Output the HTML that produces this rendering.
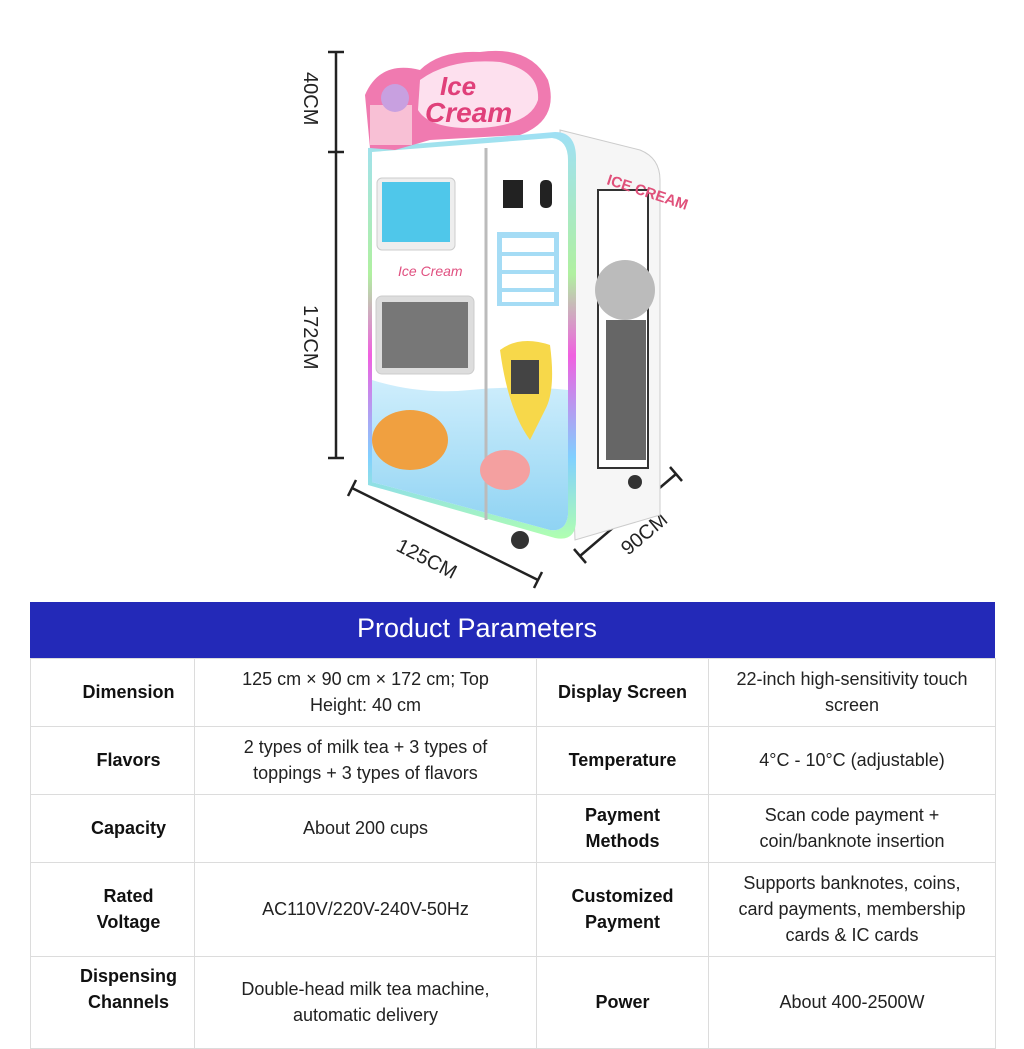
<!DOCTYPE html>
<html><head><meta charset="utf-8"><style>
html,body{margin:0;padding:0;background:#fff;width:1024px;height:1024px;overflow:hidden;font-family:"Liberation Sans",sans-serif;}
#t{position:absolute;left:30px;top:602px;border-collapse:collapse;table-layout:fixed;width:965px;}
#t td{border:1px solid #dcdcdc;text-align:center;font-size:18px;color:#222;line-height:26px;padding:0 4px;white-space:nowrap;}
#t td.b{font-weight:bold;color:#111;}
#t td.c1{padding-left:36px;padding-right:4px;}
#hd{position:absolute;left:30px;top:602px;width:965px;height:56px;background:#2329b8;}
#hd span{position:absolute;left:164px;width:566px;text-align:center;top:11px;color:#fff;font-size:27px;}
</style></head><body>
<svg width="1024" height="600" style="position:absolute;left:0;top:0">
<defs>
<linearGradient id="rb" x1="0" y1="0" x2="0" y2="1">
<stop offset="0" stop-color="#9fe0f5"/><stop offset=".35" stop-color="#b0f0a0"/><stop offset=".55" stop-color="#f060e0"/><stop offset=".8" stop-color="#80d0ff"/><stop offset="1" stop-color="#b0ffb0"/></linearGradient>
<linearGradient id="bl" x1="0" y1="0" x2="0" y2="1"><stop offset="0" stop-color="#cfeefc"/><stop offset="1" stop-color="#8fd3f3"/></linearGradient>
</defs>
<g stroke="#222" stroke-width="2.5" fill="none">
<line x1="336" y1="52" x2="336" y2="458"/><line x1="328" y1="52" x2="344" y2="52"/><line x1="328" y1="152" x2="344" y2="152"/><line x1="328" y1="458" x2="344" y2="458"/>
<line x1="352" y1="488" x2="538" y2="580"/><line x1="348" y1="496" x2="356" y2="480"/><line x1="534" y1="588" x2="542" y2="572"/>
<line x1="580" y1="556" x2="676" y2="474"/><line x1="574" y1="549" x2="586" y2="563"/><line x1="670" y1="467" x2="682" y2="481"/>
</g>
<g font-size="20" fill="#222" font-family="Liberation Sans">
<text transform="translate(304,72) rotate(90)">40CM</text>
<text transform="translate(304,305) rotate(90)">172CM</text>
<text transform="translate(395,550) rotate(27)">125CM</text>
<text transform="translate(628,556) rotate(-40)">90CM</text>
</g>
<path d="M560 130 L640 150 Q660 158 660 180 L660 515 L575 540 Z" fill="#f6f6f6" stroke="#ccc"/>
<rect x="598" y="190" width="50" height="278" fill="#fff" stroke="#333" stroke-width="2"/>
<circle cx="625" cy="290" r="30" fill="#bbb"/>
<rect x="606" y="320" width="40" height="140" fill="#666"/>
<text x="606" y="184" font-size="15" fill="#e0507a" font-weight="bold" transform="rotate(18 606 184)">ICE CREAM</text>
<circle cx="395" cy="482" r="8" fill="#333"/><circle cx="520" cy="540" r="9" fill="#333"/><circle cx="635" cy="482" r="7" fill="#333"/>
<path d="M368 148 L555 132 Q576 132 576 158 L576 520 Q576 542 555 538 L368 485 Z" fill="url(#rb)"/>
<path d="M372 152 L552 138 Q568 140 568 160 L568 515 Q566 532 550 530 L372 482 Z" fill="#fff"/>
<path d="M372 380 Q420 395 470 390 Q520 385 568 390 L568 515 Q566 532 550 530 L372 482 Z" fill="url(#bl)"/>
<line x1="486" y1="148" x2="486" y2="520" stroke="#bbb" stroke-width="3"/>
<rect x="377" y="178" width="78" height="72" rx="5" fill="#eee" stroke="#ccc"/>
<rect x="382" y="182" width="68" height="60" fill="#4fc7ea"/>
<rect x="376" y="296" width="98" height="78" rx="6" fill="#ddd" stroke="#ccc"/>
<rect x="382" y="302" width="86" height="66" fill="#777"/>
<text x="398" y="276" font-size="14" fill="#e05080" font-style="italic">Ice Cream</text>
<ellipse cx="410" cy="440" rx="38" ry="30" fill="#f0a040"/>
<ellipse cx="505" cy="470" rx="25" ry="20" fill="#f4a0a0"/>
<rect x="503" y="180" width="20" height="28" fill="#222"/><rect x="540" y="180" width="12" height="28" rx="5" fill="#222"/>
<rect x="497" y="232" width="62" height="74" fill="#a5dcf5"/>
<rect x="502" y="238" width="52" height="14" fill="#fff"/><rect x="502" y="256" width="52" height="14" fill="#fff"/><rect x="502" y="274" width="52" height="14" fill="#fff"/><rect x="502" y="292" width="52" height="10" fill="#fff"/>
<path d="M500 350 Q520 335 550 345 Q556 390 545 410 L530 440 Q508 410 500 350 Z" fill="#f7d84a"/>
<rect x="511" y="360" width="28" height="34" fill="#444"/>
<path d="M365 95 Q380 60 420 70 Q440 50 480 52 Q530 45 548 80 Q560 120 520 135 L430 140 L395 150 L370 148 Z" fill="#f07ab0"/>
<path d="M420 80 Q450 58 500 62 Q540 70 538 100 Q530 125 480 128 Q430 130 418 110 Z" fill="#fde0ee"/>
<text x="440" y="95" font-size="26" fill="#e0407a" font-style="italic" font-weight="bold">Ice</text>
<text x="425" y="122" font-size="28" fill="#e0407a" font-style="italic" font-weight="bold">Cream</text>
<rect x="370" y="105" width="42" height="40" fill="#f8c0d5"/>
<circle cx="395" cy="98" r="14" fill="#c8a0e0"/>
</svg>
<div id="hd"><span>Product Parameters</span></div>
<table id="t">
<colgroup><col style="width:164px"><col style="width:342px"><col style="width:172px"><col style="width:287px"></colgroup>
<tr style="height:56px"><td colspan="4" style="border:none"></td></tr>
<tr style="height:68px"><td class="b c1">Dimension</td><td>125 cm × 90 cm × 172 cm; Top<br>Height: 40 cm</td><td class="b">Display Screen</td><td>22-inch high-sensitivity touch<br>screen</td></tr>
<tr style="height:68px"><td class="b c1">Flavors</td><td>2 types of milk tea + 3 types of<br>toppings + 3 types of flavors</td><td class="b">Temperature</td><td>4°C - 10°C (adjustable)</td></tr>
<tr style="height:68px"><td class="b c1">Capacity</td><td>About 200 cups</td><td class="b">Payment<br>Methods</td><td>Scan code payment +<br>coin/banknote insertion</td></tr>
<tr style="height:94px"><td class="b c1">Rated<br>Voltage</td><td>AC110V/220V-240V-50Hz</td><td class="b">Customized<br>Payment</td><td>Supports banknotes, coins,<br>card payments, membership<br>cards &amp; IC cards</td></tr>
<tr style="height:92px"><td class="b c1" style="vertical-align:top;padding-top:6px">Dispensing<br>Channels</td><td style="vertical-align:top;padding-top:19px">Double-head milk tea machine,<br>automatic delivery</td><td class="b" style="vertical-align:top;padding-top:32px">Power</td><td style="vertical-align:top;padding-top:32px">About 400-2500W</td></tr>
</table>
</body></html>
